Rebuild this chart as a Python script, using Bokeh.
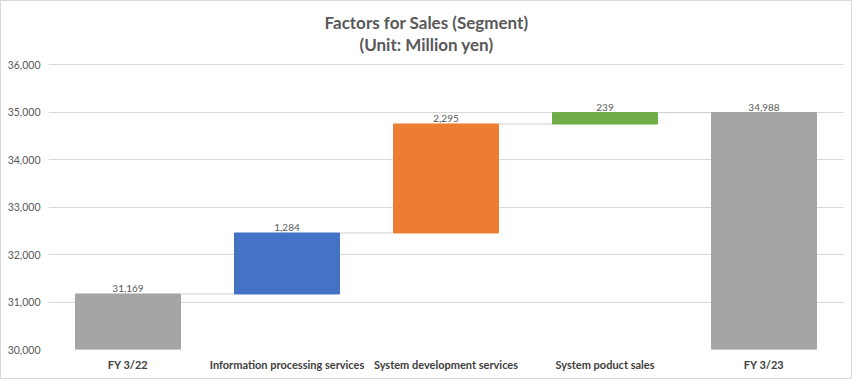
from bokeh.plotting import figure
from bokeh.models import ColumnDataSource, FixedTicker, NumeralTickFormatter, Label
from bokeh.core.properties import value
from bokeh.embed import file_html
from bokeh.resources import INLINE

# ---- data ----
categories = ["FY 3/22", "Information processing services",
              "System development services", "System poduct sales", "FY 3/23"]
start_value = 31169
changes = [1284, 2295, 239]
end_value = 34988
bar_colors = ["#a5a5a5", "#4472c4", "#ed7d31", "#70ad47", "#a5a5a5"]
y_ticks = [30000, 31000, 32000, 33000, 34000, 35000, 36000]
title_line1 = "Factors for Sales (Segment)"
title_line2 = "(Unit: Million yen)"

axis_min = y_ticks[0]
axis_max = y_ticks[-1]

# waterfall geometry derived from data
bottoms = [axis_min]
tops = [start_value]
running = start_value
for c in changes:
    bottoms.append(running)
    running += c
    tops.append(running)
bottoms.append(axis_min)
tops.append(end_value)
values = [start_value] + changes + [end_value]
xs = list(range(len(categories)))
labels = [f"{v:,}" for v in values]

# ---- layout (pixels) ----
BAR_W = 0.66
PLOT_W, PLOT_H = 795, 285      # gridded plotting area
TITLE_H = 56                   # title band kept inside the frame, above the grid
BORDER_L, BORDER_T = 47, 7
TOTAL_W, TOTAL_H = 850, 377    # plus a 1px outer border
FRAME_H = PLOT_H + TITLE_H
y_top = axis_max + TITLE_H * (axis_max - axis_min) / PLOT_H

src = ColumnDataSource(dict(x=xs, bottom=bottoms, top=tops, color=bar_colors, label=labels))
conn = ColumnDataSource(dict(
    x0=[i + BAR_W / 2 for i in xs[:-1]],
    x1=[i + 1 - BAR_W / 2 for i in xs[:-1]],
    y=tops[:-1],
))

p = figure(frame_width=PLOT_W, frame_height=FRAME_H, x_range=(-0.5, len(categories) - 0.5),
           y_range=(axis_min, y_top), output_backend="svg", toolbar_location=None,
           min_border_left=BORDER_L, min_border_right=TOTAL_W - BORDER_L - PLOT_W,
           min_border_top=BORDER_T, min_border_bottom=TOTAL_H - BORDER_T - FRAME_H)
p.outline_line_color = None
p.background_fill_color = "white"
p.border_fill_color = "white"
p.styles = {"border": "1px solid #d9d9d9"}

# two title lines, centred on the whole chart
title_cx = 426 - 1 - BORDER_L
for txt, from_top in ((title_line1, 14), (title_line2, 36)):
    p.add_layout(Label(x=title_cx, y=FRAME_H - from_top, x_units="screen", y_units="screen",
                       text=txt, text_align="center", text_baseline="middle",
                       text_font="Lato", text_font_size="17px", text_font_style="bold",
                       text_color="#595959"))

p.segment(x0="x0", y0="y", x1="x1", y1="y", source=conn, line_color="#d0d0d0", line_width=1)
p.vbar(x="x", width=BAR_W, bottom="bottom", top="top", fill_color="color",
       line_color="color", source=src)
p.text(x="x", y="top", text="label", source=src, text_align="center", text_baseline="bottom",
       y_offset=-2, text_font=value("Lato"), text_font_size="10px", text_color="#595959")

# axes
for ax in (p.xaxis, p.yaxis):
    ax.axis_line_color = None
    ax.major_tick_line_color = None
    ax.minor_tick_line_color = None
    ax.major_tick_out = 0
    ax.major_tick_in = 0
    ax.minor_tick_out = 0
    ax.minor_tick_in = 0
    ax.major_label_text_font = "Lato"
    ax.major_label_standoff = 8

p.yaxis.ticker = FixedTicker(ticks=y_ticks)
p.yaxis.formatter = NumeralTickFormatter(format="0,0")
p.yaxis.major_label_text_font_size = "10.5px"
p.yaxis.major_label_text_color = "#595959"

p.xaxis.ticker = FixedTicker(ticks=xs)
p.xaxis.major_label_overrides = {i: c for i, c in zip(xs, categories)}
p.xaxis.major_label_text_font_size = "11px"
p.xaxis.major_label_text_font_style = "bold"
p.xaxis.major_label_text_color = "#404040"

p.xgrid.grid_line_color = None
p.ygrid.ticker = FixedTicker(ticks=y_ticks)
p.ygrid.grid_line_color = "#d9d9d9"

open("out.html", "w").write(file_html(p, INLINE))
